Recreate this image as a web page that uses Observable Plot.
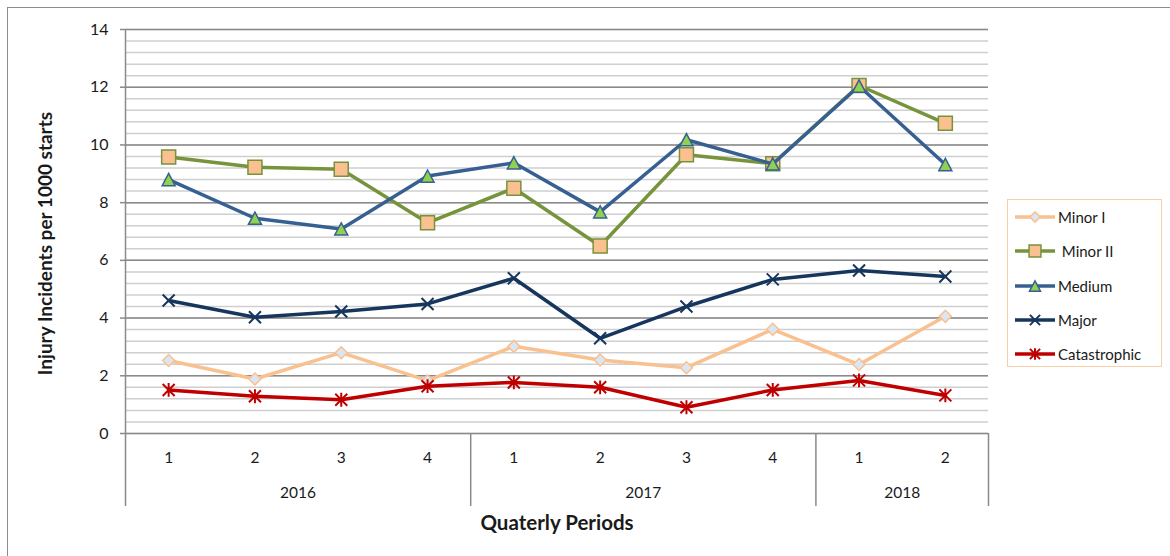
<!DOCTYPE html>
<html>
<head>
<meta charset="utf-8">
<script src="https://cdn.jsdelivr.net/npm/d3@7"></script>
<script src="https://cdn.jsdelivr.net/npm/@observablehq/plot@0.6"></script>
<style>
  html, body { margin: 0; padding: 0; background: #fff; overflow: hidden; }
  #wrap { position: relative; width: 1170px; height: 556px; overflow: hidden; font-family: Lato, "Open Sans", sans-serif; }
  #border { position: absolute; left: 7px; top: 7px; width: 1300px; height: 700px; border-left: 1.5px solid #8c8c8c; border-top: 1.5px solid #8c8c8c; }
  #chart { position: absolute; left: 0; top: 0; }
  #legend { position: absolute; left: 1007px; top: 199px; width: 155px; height: 168px; border: 1px solid #f8cfa8; box-sizing: border-box; background: #fff; }
  .lrow { position: absolute; left: 0; height: 22px; display: flex; align-items: center; font-size: 15px; color: #1a1a1a; }
  .lrow svg { display: block; }
</style>
</head>
<body>
<div id="wrap">
  <div id="border"></div>
  <div id="chart"></div>
  <div id="legend"></div>
</div>
<script>
// ---- Data ----
const quarters = ["1", "2", "3", "4", "1", "2", "3", "4", "1", "2"];
const years = ["2016", "2017", "2018"];
const quartersPerYear = [4, 4, 2];
const seriesNames = ["Minor I", "Minor II", "Medium", "Major", "Catastrophic"];
const minorI = [2.53, 1.89, 2.80, 1.83, 3.02, 2.55, 2.28, 3.61, 2.39, 4.06];
const minorII = [9.58, 9.23, 9.16, 7.30, 8.50, 6.50, 9.66, 9.35, 12.06, 10.75];
const medium = [8.80, 7.46, 7.09, 8.92, 9.38, 7.68, 10.18, 9.34, 12.04, 9.32];
const major = [4.61, 4.03, 4.23, 4.49, 5.38, 3.30, 4.40, 5.34, 5.65, 5.44];
const catastrophic = [1.51, 1.29, 1.17, 1.64, 1.77, 1.60, 0.91, 1.51, 1.84, 1.32];
const yTitle = "Injury Incidents per 1000 starts";
const xTitle = "Quaterly Periods";
const yMax = 14, majorStep = 2, minorStep = 0.4;

// ---- Symbols (Excel-like markers) ----
const rad = size => Math.sqrt(size / Math.PI);
const symDiamond = { draw(c, s) { const r = rad(s); c.moveTo(0, -r); c.lineTo(r, 0); c.lineTo(0, r); c.lineTo(-r, 0); c.closePath(); } };
const symSquare = { draw(c, s) { const r = rad(s); c.moveTo(-r, -r); c.lineTo(r, -r); c.lineTo(r, r); c.lineTo(-r, r); c.closePath(); } };
const symTriangle = { draw(c, s) { const r = rad(s); const h = r * 0.94; c.moveTo(0, -h); c.lineTo(r, h); c.lineTo(-r, h); c.closePath(); } };
const symTimes = { draw(c, s) { const r = rad(s); c.moveTo(-r, -r); c.lineTo(r, r); c.moveTo(r, -r); c.lineTo(-r, r); } };
const symAsterisk = { draw(c, s) { const r = rad(s); c.moveTo(-r, -r); c.lineTo(r, r); c.moveTo(r, -r); c.lineTo(-r, r); c.moveTo(0, -r * 1.15); c.lineTo(0, r * 1.15); } };

const styles = [
  { values: minorI, line: "#f9c090", symbol: symDiamond, r: 6, fill: "#dce6f2", stroke: "#f9c090", sw: 1.5 },
  { values: minorII, line: "#77933c", symbol: symSquare, r: 7, fill: "#fac090", stroke: "#77933c", sw: 1.5 },
  { values: medium, line: "#376092", symbol: symTriangle, r: 6.5, fill: "#92d050", stroke: "#376092", sw: 1.5 },
  { values: major, line: "#17365d", symbol: symTimes, r: 6, fill: "none", stroke: "#17365d", sw: 2 },
  { values: catastrophic, line: "#c00000", symbol: symAsterisk, r: 6, fill: "none", stroke: "#c00000", sw: 2 }
];

const rows = [];
seriesNames.forEach((name, k) => styles[k].values.forEach((v, i) => rows.push({ series: name, i, value: v })));

// year group boundaries & midpoints
const bounds = [-0.5];
quartersPerYear.forEach(n => bounds.push(bounds[bounds.length - 1] + n));
const yearMid = years.map((y, k) => (bounds[k] + bounds[k + 1]) / 2);

const majorTicks = d3.range(0, yMax + 0.001, majorStep);
const minorTicks = d3.range(0, Math.round(yMax / minorStep) + 1).map(k => +(k * minorStep).toFixed(2));

const seriesMarks = [];
seriesNames.forEach((name, k) => {
  const st = styles[k];
  const data = rows.filter(d => d.series === name);
  seriesMarks.push(Plot.line(data, { x: "i", y: "value", stroke: st.line, strokeWidth: 3.5, strokeLinejoin: "round" }));
  seriesMarks.push(Plot.dot(data, { x: "i", y: "value", symbol: st.symbol, r: st.r, fill: st.fill, stroke: st.stroke, strokeWidth: st.sw }));
});

const chart = Plot.plot({
  width: 1170,
  height: 556,
  marginLeft: 125,
  marginRight: 182,
  marginTop: 29,
  marginBottom: 123,
  x: { type: "linear", domain: [bounds[0], bounds[bounds.length - 1]] },
  y: { domain: [0, yMax] },
  style: { fontFamily: "Lato, 'Open Sans', sans-serif", background: "transparent", color: "#1a1a1a" },
  marks: [
    Plot.ruleY(minorTicks, { stroke: "#cfcfcf", strokeWidth: 1.5 }),
    Plot.ruleY(majorTicks, { stroke: "#8a8a8a", strokeWidth: 1.5 }),
    Plot.ruleX([bounds[0]], { stroke: "#8a8a8a", strokeWidth: 1.5, insetBottom: -73 }),
    Plot.ruleX(bounds.slice(1), { y1: () => 0, y2: () => 0, stroke: "#8a8a8a", strokeWidth: 1.5, insetBottom: -73 }),
    Plot.axisY({ ticks: majorTicks, tickSize: 5, tickPadding: 12, fontSize: 16, label: null, stroke: "#8a8a8a", strokeWidth: 1.5 }),
    Plot.axisX({ ticks: d3.range(quarters.length), tickFormat: i => quarters[i], tickSize: 0, tickPadding: 18, fontSize: 15.5, label: null }),
    Plot.text(years, { x: (d, k) => yearMid[k], frameAnchor: "bottom", lineAnchor: "middle", dy: 60, fontSize: 15.5 }),
    Plot.text([yTitle], { frameAnchor: "left", textAnchor: "middle", lineAnchor: "middle", rotate: -90, dx: -80, dy: 12, fontWeight: "bold", fontSize: 19 }),
    Plot.text([xTitle], { frameAnchor: "bottom", lineAnchor: "middle", dy: 90, fontWeight: "bold", fontSize: 20.5 }),
    ...seriesMarks
  ]
});
document.getElementById("chart").appendChild(chart);

// ---- Legend ----
const legend = document.getElementById("legend");
seriesNames.forEach((name, k) => {
  const st = styles[k];
  const row = document.createElement("div");
  row.className = "lrow";
  row.style.top = (6 + k * 34.3) + "px";
  const svg = d3.create("svg").attr("width", 50).attr("height", 22);
  svg.append("line").attr("x1", 7).attr("x2", 47).attr("y1", 11).attr("y2", 11)
    .attr("stroke", st.line).attr("stroke-width", 3.5);
  svg.append("path").attr("transform", "translate(27,11)")
    .attr("d", d3.symbol(st.symbol, Math.PI * (st.r * 0.85) ** 2)())
    .attr("fill", st.fill).attr("stroke", st.stroke).attr("stroke-width", st.sw);
  row.appendChild(svg.node());
  const span = document.createElement("span");
  span.textContent = name === "Minor II" ? "\u00a0" + name : name;
  row.appendChild(span);
  legend.appendChild(row);
});
</script>
</body>
</html>
